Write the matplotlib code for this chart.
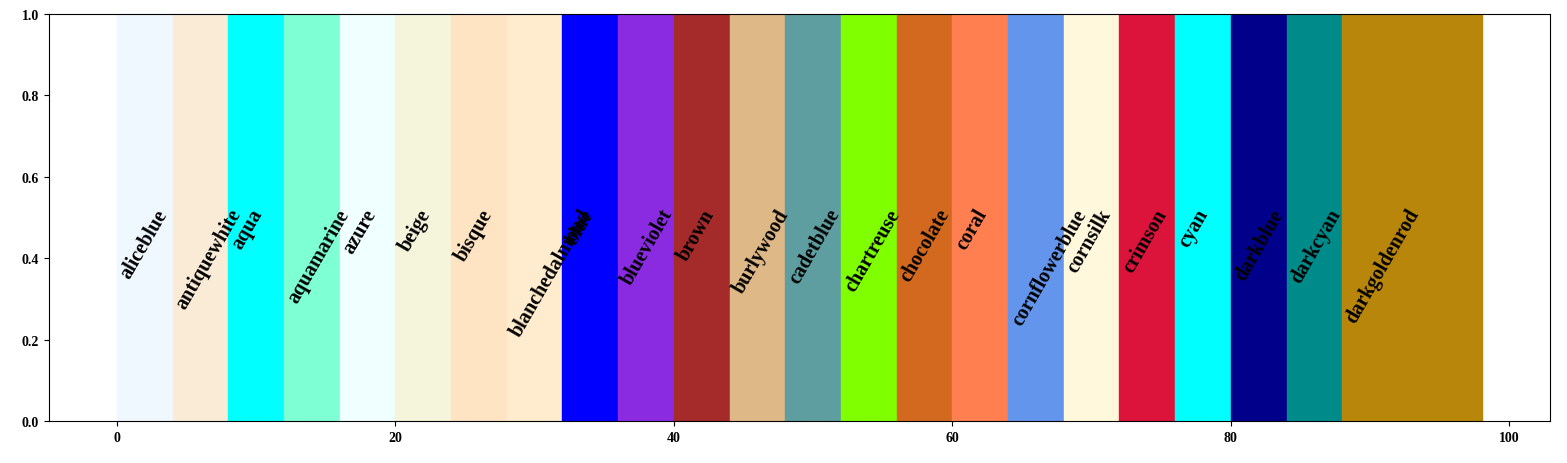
import numpy as np
import matplotlib
matplotlib.use('Agg')
import matplotlib.pyplot as plt

plt.rcParams['font.family'] = ['Liberation Serif', 'DejaVu Serif']
plt.rcParams['font.weight'] = 'bold'

# colour names shown, and the width of each band
names = ['aliceblue', 'antiquewhite', 'aqua', 'aquamarine', 'azure', 'beige',
         'bisque', 'blanchedalmond', 'blue', 'blueviolet', 'brown',
         'burlywood', 'cadetblue', 'chartreuse', 'chocolate', 'coral',
         'cornflowerblue', 'cornsilk', 'crimson', 'cyan', 'darkblue',
         'darkcyan', 'darkgoldenrod']
widths = [4] * 22 + [10]

lefts = np.concatenate([[0], np.cumsum(widths)[:-1]])

fig = plt.figure(figsize=(15.67, 4.64), dpi=100)
ax = fig.add_axes([0.031, 0.0905, 0.958, 0.8775])

for name, left, w in zip(names, lefts, widths):
    ax.axvspan(left, left + w, color=name)
    ax.text(left, 0.53, name, rotation=60, fontsize=14.5, fontweight='bold',
            va='top')

ax.set_ylim(0, 1)
ax.tick_params(labelsize=10)

fig.savefig('out.png', dpi=100)
